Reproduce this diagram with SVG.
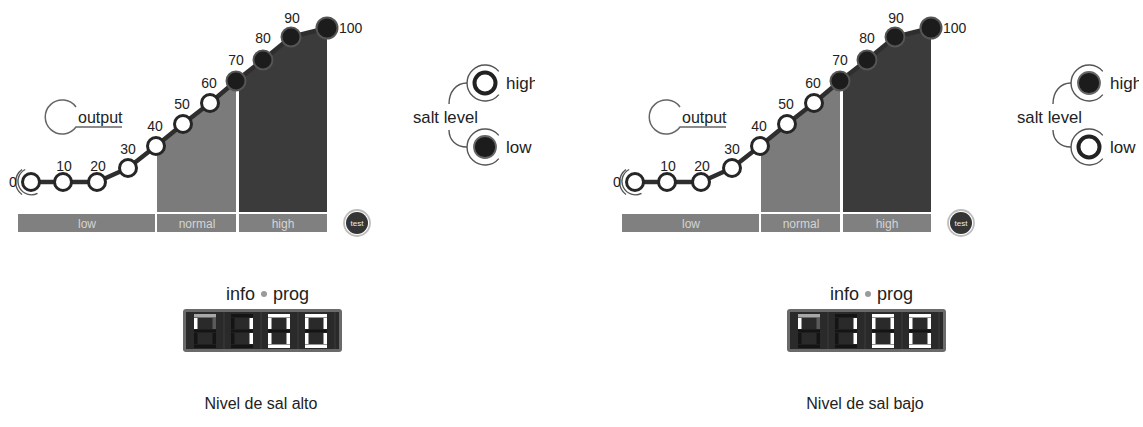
<svg xmlns="http://www.w3.org/2000/svg" width="1143" height="427" viewBox="0 0 1143 427">
<style>
.t{font-family:"Liberation Sans",Arial,Helvetica,sans-serif;fill:#222}
.num{font-size:14px;text-anchor:middle}
.line{fill:none;stroke:#2e2e2e;stroke-width:4.5;stroke-linejoin:round}
.node{fill:#fff;stroke:#262626;stroke-width:3}
.dnode{fill:#1c1c1c;stroke:#555;stroke-width:2}
.bar{fill:#808080}
.bt{font-family:"Liberation Sans",Arial,sans-serif;font-size:12px;fill:#d4d4d4;text-anchor:middle}
.ring{fill:none;stroke:#555;stroke-width:1.4}
.off{fill:#141414}
.on{fill:#fff}
.sep{stroke:#3c3c3c;stroke-width:1}
</style>
<defs>
<clipPath id="clipL"><rect x="0" y="0" width="535" height="427"/></clipPath>
<clipPath id="clipR"><rect x="604" y="0" width="535" height="427"/></clipPath>
</defs>

<!-- LEFT PANEL -->
<g id="panel-left" clip-path="url(#clipL)">
  <g id="L-areas">
    <polygon points="157,146 183,124 210,103 236,81 236,212 157,212" fill="#7b7b7b"/>
    <polygon points="239,79 263,60 291,37 327,28 327,212 239,212" fill="#3b3b3b"/>
  </g>
  <g id="L-bars">
    <rect class="bar" x="18" y="214" width="137" height="18"/>
    <rect class="bar" x="157" y="214" width="79" height="18"/>
    <rect class="bar" x="239" y="214" width="88" height="18"/>
    <text class="bt" x="87" y="227.5">low</text>
    <text class="bt" x="197" y="227.5">normal</text>
    <text class="bt" x="283" y="227.5">high</text>
  </g>
  <g id="L-connectors">
    <polyline class="line" points="31,182 63,182 97,182 128,168 156,146 183,124 210,103 236,81 263,60 291,37 327,28"/>
    <path class="ring" d="M467,83 C456,83 449,92 449,104"/>
    <path class="ring" d="M449,130 C449,140 456,147 467,147"/>
  </g>
  <g id="L-n0"><path class="ring" d="M25.2,169.5 A13,13 0 1 0 37.5,193.3"/><path class="ring" d="M22,169.5 A15.5,15.5 0 0 0 22,194.5"/><circle class="node" cx="31" cy="182" r="8.5"/><text class="t num" x="13" y="187">0</text></g>
  <g id="L-n10"><circle class="node" cx="63" cy="182" r="8.5"/><text class="t num" x="64" y="171">10</text></g>
  <g id="L-n20"><circle class="node" cx="97" cy="182" r="8.5"/><text class="t num" x="98" y="171">20</text></g>
  <g id="L-n30"><circle class="node" cx="128" cy="168" r="8.5"/><text class="t num" x="128" y="154">30</text></g>
  <g id="L-n40"><circle class="node" cx="156" cy="146" r="8.5"/><text class="t num" x="155" y="131">40</text></g>
  <g id="L-n50"><circle class="node" cx="183" cy="124" r="8.5"/><text class="t num" x="182" y="109">50</text></g>
  <g id="L-n60"><circle class="node" cx="210" cy="103" r="8.5"/><text class="t num" x="209" y="88">60</text></g>
  <g id="L-n70"><circle class="dnode" cx="236" cy="81" r="9.5"/><text class="t num" x="236" y="65">70</text></g>
  <g id="L-n80"><circle class="dnode" cx="263" cy="60" r="9.5"/><text class="t num" x="263" y="43">80</text></g>
  <g id="L-n90"><circle class="dnode" cx="291" cy="37" r="9.5"/><text class="t num" x="292" y="23">90</text></g>
  <g id="L-n100"><circle class="dnode" cx="327" cy="28" r="10.5"/><text class="t" font-size="14" x="339" y="33">100</text></g>
  <g id="L-output">
    <path d="M76,107 A17,17 0 1 0 76,127 L122,127" fill="none" stroke="#666" stroke-width="1.5"/>
    <text class="t" font-size="16" x="78" y="123" fill="#333">output</text>
  </g>
  <g id="L-test">
    <circle cx="357" cy="223" r="13" fill="none" stroke="#bdbdbd" stroke-width="1.8"/>
    <circle cx="357" cy="223" r="11" fill="#353535"/>
    <text x="357" y="225.5" font-family="Liberation Sans,Arial,sans-serif" font-size="8" fill="#eee" text-anchor="middle">test</text>
  </g>
  <g id="L-salt">
    <text class="t" font-size="17" x="413" y="123" textLength="65" lengthAdjust="spacingAndGlyphs">salt level</text>
  </g>
  <g id="L-salt-high">
    <path class="ring" d="M498.8,71.4 A18,18 0 1 0 498.8,94.6"/>
    <circle cx="485" cy="83" r="10.5" fill="#fff" stroke="#222" stroke-width="4"/>
    <text class="t" font-size="17" x="506" y="89">high</text>
  </g>
  <g id="L-salt-low">
    <path class="ring" d="M498.8,135.4 A18,18 0 1 0 498.8,158.6"/>
    <circle cx="485" cy="147" r="11" fill="#1c1c1c" stroke="#666" stroke-width="1.8"/>
    <text class="t" font-size="17" x="506" y="153">low</text>
  </g>
  <g id="L-display">
    <text class="t" font-size="18" x="255" y="300" text-anchor="end">info</text>
    <circle cx="264" cy="294" r="3" fill="#9a9a9a"/>
    <text class="t" font-size="18" x="273" y="300">prog</text>
    <rect x="183" y="309" width="159" height="43" rx="3" fill="#6a6a6a"/>
    <rect x="186" y="312" width="153" height="37" fill="#2a2a2a"/>
    <line class="sep" x1="224" y1="312" x2="224" y2="349"/>
    <line class="sep" x1="261" y1="312" x2="261" y2="349"/>
    <line class="sep" x1="298" y1="312" x2="298" y2="349"/>
    <line class="sep" x1="335" y1="312" x2="335" y2="349"/>
    <g id="L-d1">
      <rect x="194" y="314" width="22" height="3.5" fill="#a8a8a8"/>
      <rect class="on" x="194" y="318" width="3.5" height="11"/>
      <rect x="212.5" y="318" width="3.5" height="11" fill="#5a5a5a"/>
      <rect class="off" x="194" y="329.5" width="22" height="3"/>
      <rect class="off" x="194" y="333" width="3.5" height="11"/>
      <rect class="off" x="212.5" y="333" width="3.5" height="11"/>
      <rect class="off" x="194" y="344.5" width="22" height="3.5"/>
    </g>
    <g id="L-d2">
      <rect class="off" x="231" y="314" width="22" height="3.5"/>
      <rect class="off" x="231" y="318" width="3.5" height="11"/>
      <rect class="on" x="249.5" y="318" width="3.5" height="11"/>
      <rect class="off" x="231" y="329.5" width="22" height="3"/>
      <rect class="off" x="231" y="333" width="3.5" height="11"/>
      <rect class="on" x="249.5" y="333" width="3.5" height="11"/>
      <rect class="off" x="231" y="344.5" width="22" height="3.5"/>
    </g>
    <g id="L-d3">
      <rect class="on" x="268" y="314" width="22" height="3.5"/>
      <rect class="on" x="268" y="318" width="3.5" height="11"/>
      <rect class="on" x="286.5" y="318" width="3.5" height="11"/>
      <rect class="off" x="268" y="329.5" width="22" height="3"/>
      <rect class="on" x="268" y="333" width="3.5" height="11"/>
      <rect class="on" x="286.5" y="333" width="3.5" height="11"/>
      <rect class="on" x="268" y="344.5" width="22" height="3.5"/>
    </g>
    <g id="L-d4">
      <rect class="on" x="305" y="314" width="22" height="3.5"/>
      <rect class="on" x="305" y="318" width="3.5" height="11"/>
      <rect class="on" x="323.5" y="318" width="3.5" height="11"/>
      <rect class="off" x="305" y="329.5" width="22" height="3"/>
      <rect class="on" x="305" y="333" width="3.5" height="11"/>
      <rect class="on" x="323.5" y="333" width="3.5" height="11"/>
      <rect class="on" x="305" y="344.5" width="22" height="3.5"/>
    </g>
  </g>
  <g id="L-caption"><text class="t" font-size="16" x="261" y="409" text-anchor="middle" fill="#111">Nivel de sal alto</text></g>
</g>

<!-- RIGHT PANEL -->
<g id="panel-right" clip-path="url(#clipR)">
<g transform="translate(604,0)">
  <g id="R-areas">
    <polygon points="157,146 183,124 210,103 236,81 236,212 157,212" fill="#7b7b7b"/>
    <polygon points="239,79 263,60 291,37 327,28 327,212 239,212" fill="#3b3b3b"/>
  </g>
  <g id="R-bars">
    <rect class="bar" x="18" y="214" width="137" height="18"/>
    <rect class="bar" x="157" y="214" width="79" height="18"/>
    <rect class="bar" x="239" y="214" width="88" height="18"/>
    <text class="bt" x="87" y="227.5">low</text>
    <text class="bt" x="197" y="227.5">normal</text>
    <text class="bt" x="283" y="227.5">high</text>
  </g>
  <g id="R-connectors">
    <polyline class="line" points="31,182 63,182 97,182 128,168 156,146 183,124 210,103 236,81 263,60 291,37 327,28"/>
    <path class="ring" d="M467,83 C456,83 449,92 449,104"/>
    <path class="ring" d="M449,130 C449,140 456,147 467,147"/>
  </g>
  <g id="R-n0"><path class="ring" d="M25.2,169.5 A13,13 0 1 0 37.5,193.3"/><path class="ring" d="M22,169.5 A15.5,15.5 0 0 0 22,194.5"/><circle class="node" cx="31" cy="182" r="8.5"/><text class="t num" x="13" y="187">0</text></g>
  <g id="R-n10"><circle class="node" cx="63" cy="182" r="8.5"/><text class="t num" x="64" y="171">10</text></g>
  <g id="R-n20"><circle class="node" cx="97" cy="182" r="8.5"/><text class="t num" x="98" y="171">20</text></g>
  <g id="R-n30"><circle class="node" cx="128" cy="168" r="8.5"/><text class="t num" x="128" y="154">30</text></g>
  <g id="R-n40"><circle class="node" cx="156" cy="146" r="8.5"/><text class="t num" x="155" y="131">40</text></g>
  <g id="R-n50"><circle class="node" cx="183" cy="124" r="8.5"/><text class="t num" x="182" y="109">50</text></g>
  <g id="R-n60"><circle class="node" cx="210" cy="103" r="8.5"/><text class="t num" x="209" y="88">60</text></g>
  <g id="R-n70"><circle class="dnode" cx="236" cy="81" r="9.5"/><text class="t num" x="236" y="65">70</text></g>
  <g id="R-n80"><circle class="dnode" cx="263" cy="60" r="9.5"/><text class="t num" x="263" y="43">80</text></g>
  <g id="R-n90"><circle class="dnode" cx="291" cy="37" r="9.5"/><text class="t num" x="292" y="23">90</text></g>
  <g id="R-n100"><circle class="dnode" cx="327" cy="28" r="10.5"/><text class="t" font-size="14" x="339" y="33">100</text></g>
  <g id="R-output">
    <path d="M76,107 A17,17 0 1 0 76,127 L122,127" fill="none" stroke="#666" stroke-width="1.5"/>
    <text class="t" font-size="16" x="78" y="123" fill="#333">output</text>
  </g>
  <g id="R-test">
    <circle cx="357" cy="223" r="13" fill="none" stroke="#bdbdbd" stroke-width="1.8"/>
    <circle cx="357" cy="223" r="11" fill="#353535"/>
    <text x="357" y="225.5" font-family="Liberation Sans,Arial,sans-serif" font-size="8" fill="#eee" text-anchor="middle">test</text>
  </g>
  <g id="R-salt">
    <text class="t" font-size="17" x="413" y="123" textLength="65" lengthAdjust="spacingAndGlyphs">salt level</text>
  </g>
  <g id="R-salt-high">
    <path class="ring" d="M498.8,71.4 A18,18 0 1 0 498.8,94.6"/>
    <circle cx="485" cy="83" r="11" fill="#1c1c1c" stroke="#666" stroke-width="1.8"/>
    <text class="t" font-size="17" x="506" y="89">high</text>
  </g>
  <g id="R-salt-low">
    <path class="ring" d="M498.8,135.4 A18,18 0 1 0 498.8,158.6"/>
    <circle cx="485" cy="147" r="10.5" fill="#fff" stroke="#222" stroke-width="4"/>
    <text class="t" font-size="17" x="506" y="153">low</text>
  </g>
  <g id="R-display">
    <text class="t" font-size="18" x="255" y="300" text-anchor="end">info</text>
    <circle cx="264" cy="294" r="3" fill="#9a9a9a"/>
    <text class="t" font-size="18" x="273" y="300">prog</text>
    <rect x="183" y="309" width="159" height="43" rx="3" fill="#6a6a6a"/>
    <rect x="186" y="312" width="153" height="37" fill="#2a2a2a"/>
    <line class="sep" x1="224" y1="312" x2="224" y2="349"/>
    <line class="sep" x1="261" y1="312" x2="261" y2="349"/>
    <line class="sep" x1="298" y1="312" x2="298" y2="349"/>
    <line class="sep" x1="335" y1="312" x2="335" y2="349"/>
    <g id="R-d1">
      <rect x="194" y="314" width="22" height="3.5" fill="#a8a8a8"/>
      <rect class="on" x="194" y="318" width="3.5" height="11"/>
      <rect x="212.5" y="318" width="3.5" height="11" fill="#5a5a5a"/>
      <rect class="off" x="194" y="329.5" width="22" height="3"/>
      <rect class="off" x="194" y="333" width="3.5" height="11"/>
      <rect class="off" x="212.5" y="333" width="3.5" height="11"/>
      <rect class="off" x="194" y="344.5" width="22" height="3.5"/>
    </g>
    <g id="R-d2">
      <rect class="off" x="231" y="314" width="22" height="3.5"/>
      <rect class="off" x="231" y="318" width="3.5" height="11"/>
      <rect class="on" x="249.5" y="318" width="3.5" height="11"/>
      <rect class="off" x="231" y="329.5" width="22" height="3"/>
      <rect class="off" x="231" y="333" width="3.5" height="11"/>
      <rect class="on" x="249.5" y="333" width="3.5" height="11"/>
      <rect class="off" x="231" y="344.5" width="22" height="3.5"/>
    </g>
    <g id="R-d3">
      <rect class="on" x="268" y="314" width="22" height="3.5"/>
      <rect class="on" x="268" y="318" width="3.5" height="11"/>
      <rect class="on" x="286.5" y="318" width="3.5" height="11"/>
      <rect class="off" x="268" y="329.5" width="22" height="3"/>
      <rect class="on" x="268" y="333" width="3.5" height="11"/>
      <rect class="on" x="286.5" y="333" width="3.5" height="11"/>
      <rect class="on" x="268" y="344.5" width="22" height="3.5"/>
    </g>
    <g id="R-d4">
      <rect class="on" x="305" y="314" width="22" height="3.5"/>
      <rect class="on" x="305" y="318" width="3.5" height="11"/>
      <rect class="on" x="323.5" y="318" width="3.5" height="11"/>
      <rect class="off" x="305" y="329.5" width="22" height="3"/>
      <rect class="on" x="305" y="333" width="3.5" height="11"/>
      <rect class="on" x="323.5" y="333" width="3.5" height="11"/>
      <rect class="on" x="305" y="344.5" width="22" height="3.5"/>
    </g>
  </g>
  <g id="R-caption"><text class="t" font-size="16" x="261" y="409" text-anchor="middle" fill="#111">Nivel de sal bajo</text></g>
</g>
</g>
</svg>
